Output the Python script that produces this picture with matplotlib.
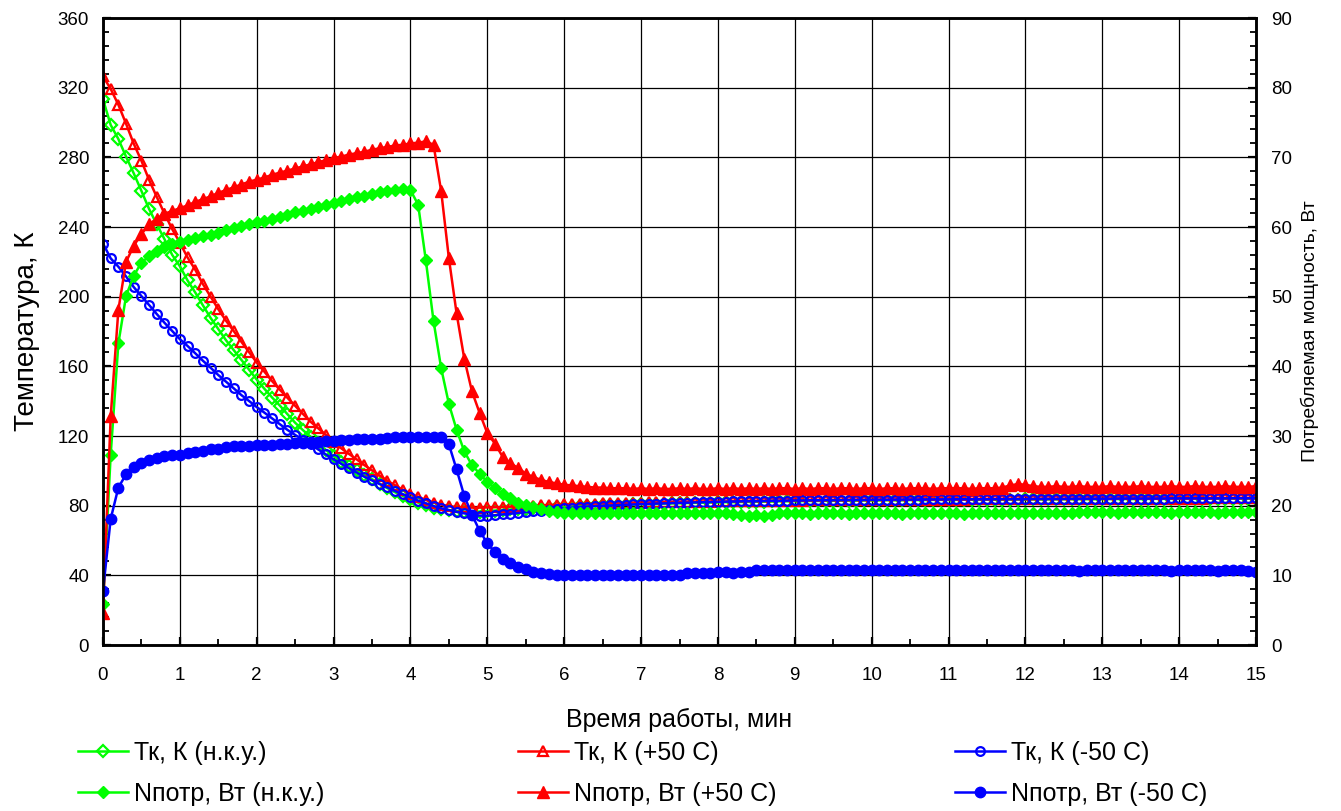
import numpy as np
import matplotlib
matplotlib.use("Agg")
import matplotlib.pyplot as plt
from matplotlib.ticker import MultipleLocator

plt.rcParams['font.family'] = ['Liberation Sans', 'DejaVu Sans']

# time axis, min (one sample every 6 s)
time_min = np.round(np.arange(0, 15.01, 0.1), 1)

# Tk, K  (temperature, left axis)
tk_nku = [
    313.3, 298.6, 290.5, 280.4, 270.8, 260.7, 250.3, 241.5, 233.0, 224.0,
    217.5, 209.3, 202.4, 195.0, 187.8, 181.4, 175.0, 169.4, 163.8, 158.1,
    152.4, 147.1, 142.1, 137.5, 132.5, 127.6, 123.4, 119.6, 115.8, 112.0,
    108.5, 105.3, 102.6, 100.2, 97.8, 95.2, 92.6, 90.0, 87.7, 85.6,
    83.6, 81.8, 80.2, 78.9, 78.0, 77.3, 76.8, 76.5, 76.4, 76.6,
    76.9, 77.2, 77.5, 77.8, 78.0, 78.3, 78.5, 78.7, 78.9, 79.1,
    79.3, 79.5, 79.7, 79.8, 80.0, 80.1, 80.3, 80.4, 80.5, 80.7,
    80.8, 80.9, 81.0, 81.2, 81.3, 81.4, 81.5, 81.6, 81.7, 81.8,
    81.9, 82.0, 82.0, 82.1, 82.2, 82.3, 82.3, 82.4, 82.5, 82.5,
    82.6, 82.6, 82.7, 82.7, 82.8, 82.8, 82.9, 82.9, 82.9, 83.0,
    83.0, 83.0, 83.1, 83.1, 83.1, 83.2, 83.2, 83.2, 83.3, 83.3,
    83.3, 83.3, 83.4, 83.4, 83.4, 83.4, 83.5, 83.5, 83.5, 83.5,
    83.6, 83.6, 83.6, 83.6, 83.6, 83.7, 83.7, 83.7, 83.7, 83.7,
    83.8, 83.8, 83.8, 83.8, 83.8, 83.8, 83.9, 83.9, 83.9, 83.9,
    83.9, 83.9, 84.0, 84.0, 84.0, 84.0, 84.0, 84.0, 84.1, 84.1,
    84.1,
]
tk_p50 = [
    326.5, 319.3, 310.2, 299.3, 287.8, 278.0, 267.0, 257.2, 247.7, 238.8,
    231.0, 222.5, 215.5, 207.2, 200.0, 192.8, 186.2, 180.3, 174.1, 168.2,
    162.2, 156.9, 151.5, 146.6, 141.9, 137.3, 132.7, 128.2, 124.4, 120.6,
    116.7, 112.9, 109.7, 106.6, 103.3, 100.3, 97.2, 94.3, 91.7, 89.1,
    86.9, 85.0, 83.3, 81.8, 80.6, 79.7, 79.2, 79.0, 78.9, 78.9,
    79.0, 79.1, 79.2, 79.4, 79.6, 79.8, 80.0, 80.2, 80.4, 80.6,
    80.8, 80.9, 81.0, 81.1, 81.2, 81.3, 81.4, 81.5, 81.6, 81.7,
    81.8, 81.9, 81.9, 82.0, 82.1, 82.1, 82.2, 82.2, 82.3, 82.3,
    82.4, 82.4, 82.5, 82.5, 82.6, 82.6, 82.7, 82.7, 82.8, 82.8,
    82.9, 82.9, 83.0, 83.0, 83.0, 83.1, 83.1, 83.1, 83.2, 83.2,
    83.2, 83.3, 83.3, 83.3, 83.3, 83.4, 83.4, 83.4, 83.4, 83.5,
    83.5, 83.5, 83.5, 83.6, 83.6, 83.6, 83.6, 83.6, 83.7, 83.7,
    83.7, 83.7, 83.8, 83.8, 83.8, 83.8, 83.8, 83.9, 83.9, 83.9,
    83.9, 83.9, 84.0, 84.0, 84.0, 84.0, 84.0, 84.0, 84.1, 84.1,
    84.1, 84.1, 84.1, 84.1, 84.2, 84.2, 84.2, 84.2, 84.2, 84.2,
    84.3,
]
tk_m50 = [
    230.5, 222.0, 217.2, 211.6, 205.5, 200.3, 195.2, 190.0, 185.0, 180.3,
    175.6, 171.7, 167.5, 163.2, 159.2, 155.0, 151.2, 147.4, 143.5, 140.1,
    136.6, 133.4, 130.1, 126.8, 123.5, 120.6, 117.9, 115.2, 112.3, 109.4,
    106.6, 104.0, 101.5, 99.0, 96.6, 94.5, 92.4, 90.5, 88.4, 86.6,
    84.8, 82.9, 81.4, 79.8, 78.5, 77.5, 76.5, 75.6, 74.8, 74.3,
    74.2, 74.5, 75.0, 75.4, 75.8, 76.3, 76.8, 77.2, 77.7, 78.1,
    78.5, 78.9, 79.2, 79.5, 79.7, 79.9, 80.1, 80.3, 80.5, 80.7,
    80.9, 81.0, 81.2, 81.3, 81.5, 81.6, 81.7, 81.9, 82.0, 82.1,
    82.2, 82.3, 82.4, 82.5, 82.6, 82.6, 82.7, 82.8, 82.8, 82.9,
    83.0, 83.0, 83.1, 83.1, 83.2, 83.2, 83.2, 83.3, 83.3, 83.3,
    83.4, 83.4, 83.4, 83.5, 83.5, 83.5, 83.5, 83.6, 83.6, 83.6,
    83.6, 83.7, 83.7, 83.7, 83.7, 83.7, 83.8, 83.8, 83.8, 83.8,
    83.8, 83.9, 83.9, 83.9, 83.9, 83.9, 84.0, 84.0, 84.0, 84.0,
    84.0, 84.0, 84.1, 84.1, 84.1, 84.1, 84.1, 84.1, 84.1, 84.2,
    84.2, 84.2, 84.2, 84.2, 84.2, 84.2, 84.2, 84.3, 84.3, 84.3,
    84.3,
]

# Nпотр, Вт  (power, right axis)
np_nku = [
    5.9, 27.3, 43.3, 50.1, 53.0, 54.9, 55.8, 56.5, 57.1, 57.5,
    57.8, 58.1, 58.4, 58.7, 58.9, 59.2, 59.6, 59.8, 60.1, 60.4,
    60.7, 60.9, 61.2, 61.5, 61.7, 62.1, 62.3, 62.6, 62.9, 63.2,
    63.5, 63.7, 64.0, 64.3, 64.4, 64.7, 65.0, 65.2, 65.3, 65.4,
    65.3, 63.2, 55.2, 46.5, 39.7, 34.6, 30.9, 27.8, 25.8, 24.6,
    23.4, 22.5, 21.7, 21.1, 20.4, 20.1, 19.8, 19.5, 19.3, 19.1,
    19.0, 19.0, 19.0, 18.9, 19.0, 19.0, 18.9, 19.0, 19.0, 19.0,
    18.9, 19.0, 19.0, 18.9, 19.0, 19.0, 18.9, 18.9, 19.0, 18.9,
    18.9, 18.9, 18.8, 18.6, 18.5, 18.6, 18.5, 18.7, 18.9, 18.9,
    18.9, 18.9, 18.8, 18.9, 18.9, 18.9, 18.9, 18.8, 18.9, 18.9,
    18.9, 18.9, 18.9, 18.9, 18.8, 18.9, 18.9, 18.9, 18.9, 18.9,
    18.9, 18.9, 18.8, 18.9, 18.9, 18.9, 18.9, 18.9, 18.9, 18.9,
    18.9, 18.9, 18.9, 18.9, 18.9, 18.9, 18.9, 19.1, 19.1, 19.1,
    19.1, 19.1, 19.0, 19.1, 19.1, 19.1, 19.1, 19.1, 19.1, 19.0,
    19.1, 19.1, 19.1, 19.1, 19.1, 19.0, 19.1, 19.1, 19.1, 19.1,
    19.1,
]
np_p50 = [
    4.6, 32.8, 48.1, 55.0, 57.3, 59.0, 60.4, 61.2, 61.9, 62.3,
    62.7, 63.1, 63.6, 64.0, 64.4, 64.9, 65.3, 65.7, 66.1, 66.5,
    66.8, 67.1, 67.5, 67.8, 68.1, 68.4, 68.7, 69.0, 69.3, 69.6,
    69.9, 70.1, 70.4, 70.6, 70.8, 71.1, 71.3, 71.5, 71.7, 71.8,
    72.0, 72.1, 72.3, 71.8, 65.1, 55.5, 47.6, 41.1, 36.4, 33.3,
    30.4, 28.9, 27.0, 26.1, 25.4, 24.6, 24.1, 23.7, 23.4, 23.2,
    23.0, 22.9, 22.8, 22.7, 22.6, 22.6, 22.5, 22.5, 22.5, 22.4,
    22.5, 22.4, 22.5, 22.4, 22.4, 22.5, 22.4, 22.5, 22.4, 22.4,
    22.5, 22.4, 22.5, 22.4, 22.5, 22.4, 22.5, 22.4, 22.5, 22.5,
    22.4, 22.5, 22.4, 22.5, 22.5, 22.4, 22.5, 22.5, 22.4, 22.5,
    22.5, 22.4, 22.5, 22.5, 22.4, 22.5, 22.5, 22.5, 22.4, 22.5,
    22.5, 22.5, 22.5, 22.4, 22.5, 22.5, 22.5, 22.6, 22.9, 23.1,
    23.0, 22.8, 22.7, 22.7, 22.8, 22.7, 22.7, 22.8, 22.7, 22.7,
    22.7, 22.8, 22.7, 22.7, 22.7, 22.8, 22.7, 22.7, 22.7, 22.8,
    22.7, 22.7, 22.8, 22.7, 22.7, 22.7, 22.8, 22.7, 22.7, 22.7,
    22.8,
]
np_m50 = [
    7.8, 18.1, 22.6, 24.5, 25.5, 26.1, 26.6, 26.9, 27.1, 27.3,
    27.3, 27.5, 27.7, 27.9, 28.1, 28.2, 28.4, 28.5, 28.6, 28.6,
    28.7, 28.7, 28.7, 28.8, 28.9, 29.0, 29.0, 29.1, 29.2, 29.3,
    29.3, 29.4, 29.4, 29.5, 29.5, 29.5, 29.6, 29.7, 29.8, 29.8,
    29.9, 29.9, 29.9, 29.9, 29.9, 28.8, 25.2, 21.4, 18.7, 16.4,
    14.6, 13.3, 12.4, 11.8, 11.2, 10.9, 10.5, 10.3, 10.2, 10.1,
    10.1, 10.0, 10.0, 10.0, 10.0, 10.0, 10.1, 10.1, 10.1, 10.1,
    10.1, 10.1, 10.1, 10.1, 10.1, 10.1, 10.4, 10.4, 10.4, 10.4,
    10.5, 10.5, 10.4, 10.5, 10.5, 10.7, 10.7, 10.7, 10.7, 10.7,
    10.7, 10.7, 10.7, 10.7, 10.7, 10.7, 10.7, 10.7, 10.7, 10.7,
    10.7, 10.7, 10.7, 10.7, 10.7, 10.7, 10.7, 10.7, 10.7, 10.7,
    10.7, 10.7, 10.7, 10.7, 10.7, 10.7, 10.7, 10.7, 10.7, 10.7,
    10.7, 10.7, 10.7, 10.7, 10.7, 10.7, 10.7, 10.6, 10.7, 10.7,
    10.7, 10.7, 10.7, 10.7, 10.7, 10.7, 10.7, 10.7, 10.7, 10.6,
    10.7, 10.7, 10.7, 10.7, 10.7, 10.6, 10.7, 10.7, 10.7, 10.6,
    10.5,
]

GREEN, RED, BLUE = "#00ff00", "#ff0000", "#0000ff"

fig = plt.figure(figsize=(13.41, 8.11), dpi=100)
ax = fig.add_axes([103/1341, 1 - 645/811, (1256 - 103)/1341, (645 - 18)/811])
ax2 = ax.twinx()

lw = 1.8
l1, = ax.plot(time_min, tk_nku, color=GREEN, lw=lw, marker="D", ms=6, mfc="none", mew=1.6,
              label="Тк, К (н.к.у.)")
l2, = ax.plot(time_min, tk_p50, color=RED, lw=lw, marker="^", ms=7.5, mfc="none", mew=1.6,
              label="Тк, К (+50 С)")
l3, = ax.plot(time_min, tk_m50, color=BLUE, lw=lw, marker="o", ms=6.3, mfc="none", mew=1.6,
              label="Тк, К (-50 С)")
l4, = ax2.plot(time_min, np_nku, color=GREEN, lw=lw, marker="D", ms=6.5,
               label="Nпотр, Вт (н.к.у.)")
l5, = ax2.plot(time_min, np_p50, color=RED, lw=lw, marker="^", ms=9,
               label="Nпотр, Вт (+50 С)")
l6, = ax2.plot(time_min, np_m50, color=BLUE, lw=lw, marker="o", ms=7.5,
               label="Nпотр, Вт (-50 С)")

ax.set_xlim(0, 15)
ax.set_ylim(0, 360)
ax2.set_ylim(0, 90)
ax.xaxis.set_major_locator(MultipleLocator(1))
ax.xaxis.set_minor_locator(MultipleLocator(0.5))
ax.yaxis.set_major_locator(MultipleLocator(40))
ax.yaxis.set_minor_locator(MultipleLocator(8))
ax2.yaxis.set_major_locator(MultipleLocator(10))
ax2.yaxis.set_minor_locator(MultipleLocator(2))

ax.grid(True, which="major", color="black", lw=0.9)
ax.set_axisbelow(True)

for a in (ax, ax2):
    a.tick_params(which="major", direction="in", length=6, width=1.6, labelsize=13.5)
    a.tick_params(which="minor", direction="in", length=4, width=1.3)
    for s in a.spines.values():
        s.set_linewidth(1.8)
ax.tick_params(axis="x", pad=16)
ax.tick_params(axis="y", pad=10)
ax2.tick_params(axis="y", pad=11)

ax.set_xlabel("Время работы, мин", fontsize=18, labelpad=17)
ax.set_ylabel("Температура, К", fontsize=20, labelpad=13)
ax2.set_ylabel("Потребляемая мощность, Вт", fontsize=14, labelpad=6)

# legend: three columns placed under the axes
cols = [(l1, l4, 78), (l2, l5, 518), (l3, l6, 955)]
for a_line, b_line, xpx in cols:
    fig.legend(handles=[a_line, b_line], loc="upper left",
               bbox_to_anchor=(xpx / 1341, 1 - 741 / 811),
               frameon=False, fontsize=18, handlelength=2.0,
               handletextpad=0.25, labelspacing=0.68, borderaxespad=0,
               borderpad=0)

fig.savefig("out.png", dpi=100)
